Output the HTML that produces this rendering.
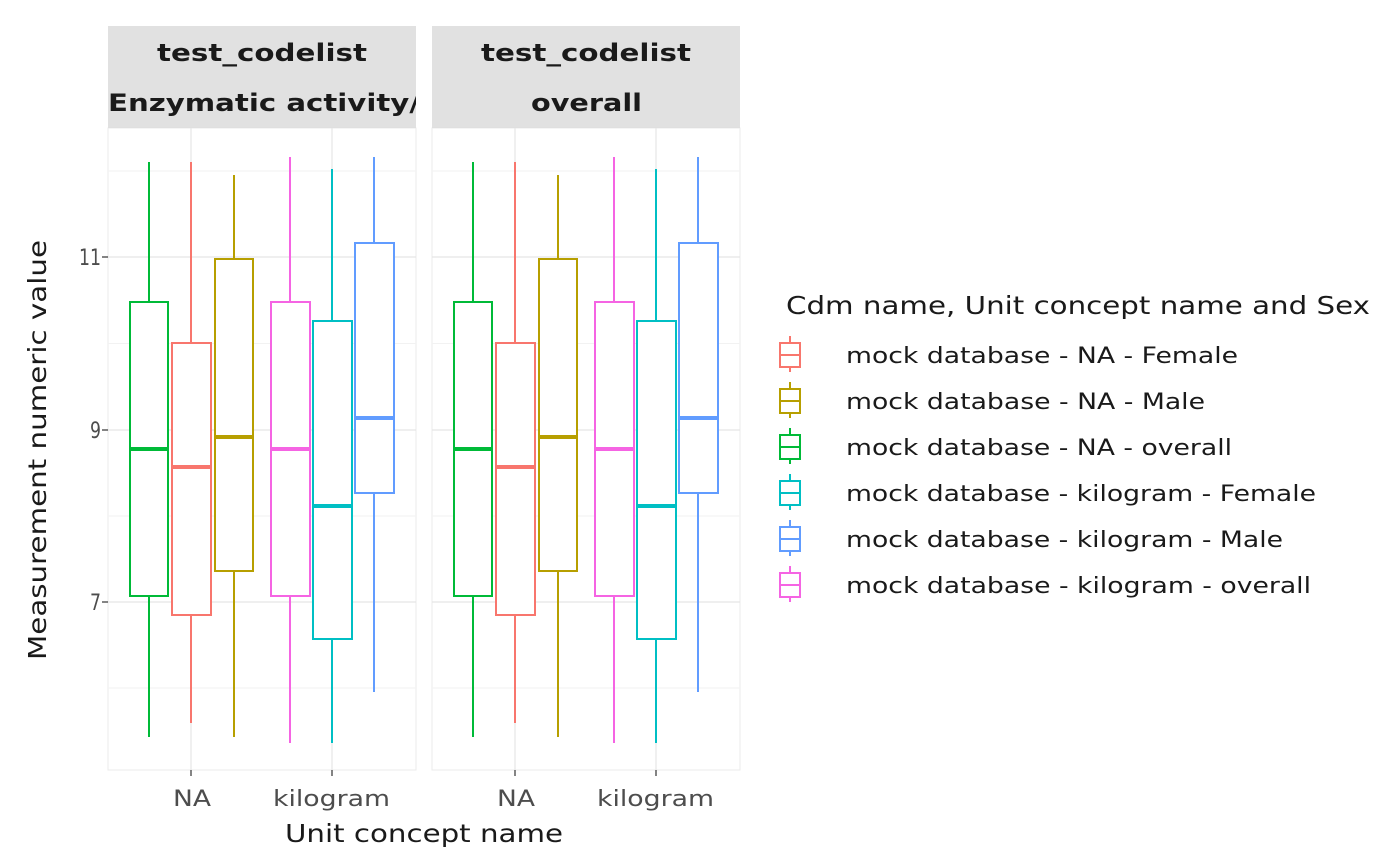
<!DOCTYPE html>
<html><head><meta charset="utf-8"><style>body{margin:0;background:#fff}svg{display:block}</style></head><body>
<svg width="1400" height="866" xmlns="http://www.w3.org/2000/svg" font-family="'DejaVu Sans','Liberation Sans',sans-serif">
<defs>
<clipPath id="c1"><rect x="108" y="26" width="308" height="102"/></clipPath>
<clipPath id="c2"><rect x="432" y="26" width="308" height="102"/></clipPath>
<g id="panel">
<rect x="0" y="128" width="308" height="642" fill="#fff" stroke="#ebebeb" stroke-width="1"/>
<g stroke="#f2f2f2" stroke-width="1">
<line x1="0" x2="308" y1="171" y2="171"/><line x1="0" x2="308" y1="343.5" y2="343.5"/><line x1="0" x2="308" y1="516" y2="516"/><line x1="0" x2="308" y1="688" y2="688"/>
</g>
<g stroke="#e5e5e5" stroke-width="1.2">
<line x1="0" x2="308" y1="257" y2="257"/><line x1="0" x2="308" y1="430" y2="430"/><line x1="0" x2="308" y1="602" y2="602"/>
<line x1="83" x2="83" y1="128" y2="770"/><line x1="224" x2="224" y1="128" y2="770"/>
</g>
<g fill="#fff" stroke-width="2">
<g stroke="#00BA38"><line x1="41" x2="41" y1="162" y2="737"/><rect x="22" y="302" width="38" height="294"/><line x1="22" x2="60" y1="449" y2="449" stroke-width="4"/></g>
<g stroke="#F8766D"><line x1="83" x2="83" y1="162" y2="723"/><rect x="64" y="343" width="39" height="272"/><line x1="64" x2="103" y1="467" y2="467" stroke-width="4"/></g>
<g stroke="#B79F00"><line x1="126" x2="126" y1="175" y2="737"/><rect x="107" y="259" width="38" height="312"/><line x1="107" x2="145" y1="437" y2="437" stroke-width="4"/></g>
<g stroke="#F564E3"><line x1="182" x2="182" y1="157" y2="743"/><rect x="163" y="302" width="39" height="294"/><line x1="163" x2="202" y1="449" y2="449" stroke-width="4"/></g>
<g stroke="#00BFC4"><line x1="224" x2="224" y1="169" y2="743"/><rect x="205" y="321" width="39" height="318"/><line x1="205" x2="244" y1="506" y2="506" stroke-width="4"/></g>
<g stroke="#619CFF"><line x1="266" x2="266" y1="157" y2="692"/><rect x="247" y="243" width="39" height="250"/><line x1="247" x2="286" y1="418" y2="418" stroke-width="4"/></g>
</g>
<g stroke="#333" stroke-width="1.2"><line x1="83" x2="83" y1="770" y2="776"/><line x1="224" x2="224" y1="770" y2="776"/></g>
<g font-size="22" fill="#4d4d4d">
<text x="65" y="806" textLength="38" lengthAdjust="spacingAndGlyphs">NA</text>
<text x="165" y="806" textLength="117" lengthAdjust="spacingAndGlyphs">kilogram</text></g>
</g>
</defs>
<use href="#panel" x="108"/>
<use href="#panel" x="432"/>
<rect x="108" y="26" width="308" height="102" fill="#d9d9d9" fill-opacity="0.8"/>
<rect x="432" y="26" width="308" height="102" fill="#d9d9d9" fill-opacity="0.8"/>
<g font-size="24" font-weight="bold" fill="#1a1a1a">
<text x="157" y="61" textLength="210" lengthAdjust="spacingAndGlyphs">test_codelist</text>
<g clip-path="url(#c1)"><text x="108" y="111" textLength="312" lengthAdjust="spacingAndGlyphs">Enzymatic activity/</text></g>
<text x="481" y="61" textLength="210" lengthAdjust="spacingAndGlyphs">test_codelist</text>
<g clip-path="url(#c2)"><text x="531" y="111" textLength="111" lengthAdjust="spacingAndGlyphs">overall</text></g>
</g>
<g stroke="#333" stroke-width="1.2"><line x1="102" x2="108" y1="257" y2="257"/><line x1="102" x2="108" y1="430" y2="430"/><line x1="102" x2="108" y1="602" y2="602"/></g>
<g font-size="22" fill="#4d4d4d">
<text x="79" y="265" textLength="22" lengthAdjust="spacingAndGlyphs">11</text>
<text x="90" y="438" textLength="11" lengthAdjust="spacingAndGlyphs">9</text>
<text x="90" y="610" textLength="11" lengthAdjust="spacingAndGlyphs">7</text></g>
<text transform="translate(46,660) rotate(-90)" font-size="25" fill="#1a1a1a" textLength="420" lengthAdjust="spacingAndGlyphs">Measurement numeric value</text>
<text x="285" y="842" font-size="25" fill="#1a1a1a" textLength="278" lengthAdjust="spacingAndGlyphs">Unit concept name</text>
<text x="786" y="314" font-size="25" fill="#1a1a1a" textLength="584" lengthAdjust="spacingAndGlyphs">Cdm name, Unit concept name and Sex</text>
<g fill="#fff" stroke-width="2">
<g stroke="#F8766D"><line x1="790" x2="790" y1="336" y2="372"/><rect x="780" y="343" width="20" height="24"/><line x1="780" x2="800" y1="355" y2="355"/></g>
<g stroke="#B79F00"><line x1="790" x2="790" y1="382" y2="418"/><rect x="780" y="389" width="20" height="24"/><line x1="780" x2="800" y1="401" y2="401"/></g>
<g stroke="#00BA38"><line x1="790" x2="790" y1="428" y2="464"/><rect x="780" y="435" width="20" height="24"/><line x1="780" x2="800" y1="447" y2="447"/></g>
<g stroke="#00BFC4"><line x1="790" x2="790" y1="474" y2="510"/><rect x="780" y="481" width="20" height="24"/><line x1="780" x2="800" y1="493" y2="493"/></g>
<g stroke="#619CFF"><line x1="790" x2="790" y1="520" y2="556"/><rect x="780" y="527" width="20" height="24"/><line x1="780" x2="800" y1="539" y2="539"/></g>
<g stroke="#F564E3"><line x1="790" x2="790" y1="566" y2="602"/><rect x="780" y="573" width="20" height="24"/><line x1="780" x2="800" y1="585" y2="585"/></g>
</g>
<g font-size="22" fill="#1a1a1a">
<text x="846" y="363" textLength="392" lengthAdjust="spacingAndGlyphs">mock database - NA - Female</text>
<text x="846" y="409" textLength="359" lengthAdjust="spacingAndGlyphs">mock database - NA - Male</text>
<text x="846" y="455" textLength="386" lengthAdjust="spacingAndGlyphs">mock database - NA - overall</text>
<text x="846" y="501" textLength="470" lengthAdjust="spacingAndGlyphs">mock database - kilogram - Female</text>
<text x="846" y="547" textLength="437" lengthAdjust="spacingAndGlyphs">mock database - kilogram - Male</text>
<text x="846" y="593" textLength="465" lengthAdjust="spacingAndGlyphs">mock database - kilogram - overall</text>
</g>
</svg>
</body></html>
